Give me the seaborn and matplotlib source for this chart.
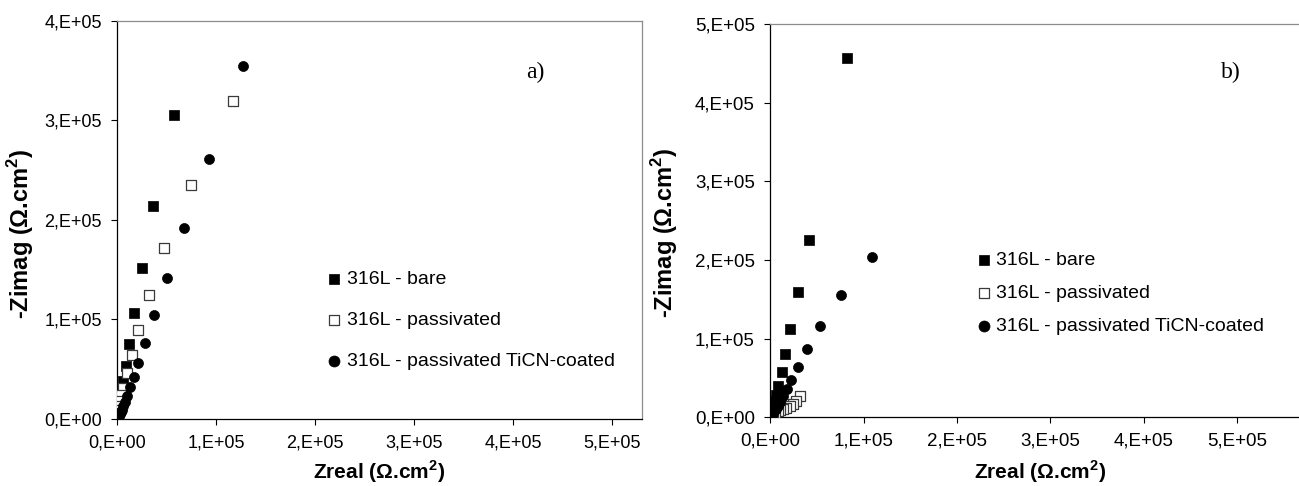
import matplotlib
matplotlib.use("Agg")
import matplotlib.pyplot as plt
import seaborn as sns
import pandas as pd

# ---------------- data ----------------
series_names = ["316L - bare", "316L - passivated", "316L - passivated TiCN-coated"]

a_bare_x = [57000, 36500, 24900, 17000, 11900, 8300, 5400, 3800, 2800, 2000, 1400, 900, 600, 350, 200, 100]
a_bare_y = [305000, 214000, 152000, 106700, 75000, 53300, 37700, 30000, 23000, 17000, 12000, 8000, 5000, 3000, 1600, 700]
a_pass_x = [117000, 74000, 47300, 31800, 21300, 14800, 10100, 5400, 4000, 3000, 2100, 1500, 1000, 600, 350, 200, 100]
a_pass_y = [319700, 235300, 171300, 124300, 89300, 64000, 46000, 31000, 24000, 18000, 13000, 9000, 6000, 3800, 2200, 1200, 500]
a_coat_x = [127400, 93100, 67900, 49800, 37500, 27800, 21300, 17000, 13000, 10100, 8000, 6200, 4700, 3500, 2500, 1700, 1100, 700, 400, 200]
a_coat_y = [355000, 260700, 192300, 142000, 104000, 76700, 56700, 41700, 31700, 23300, 17500, 13000, 9500, 6800, 4700, 3100, 2000, 1200, 600, 250]

b_bare_x = [82700, 41200, 29600, 21800, 16500, 12300, 9000, 6200, 4500, 3300, 2400, 1700, 1200, 800, 500, 300, 150]
b_bare_y = [456200, 225400, 159500, 112700, 80800, 57400, 40400, 28900, 21000, 15500, 11000, 7800, 5400, 3600, 2300, 1300, 600]
b_pass_x = [32000, 28000, 24500, 21000, 17500, 14000, 11000, 8000, 5500, 3500, 2000, 1000, 500, 200]
b_pass_y = [27000, 21000, 17000, 14000, 12000, 10500, 9000, 7500, 6000, 4500, 3000, 1800, 900, 300]
b_coat_x = [109500, 75700, 53900, 39900, 29600, 22600, 17700, 13600, 10500, 8000, 6000, 4500, 3300, 2300, 1600, 1000, 600, 300]
b_coat_y = [204100, 155200, 116100, 86300, 63800, 47600, 36100, 26800, 20000, 14800, 10800, 7800, 5500, 3800, 2500, 1500, 800, 350]

x_tick_vals = [0, 100000, 200000, 300000, 400000, 500000]
x_tick_labels = ["0,E+00", "1,E+05", "2,E+05", "3,E+05", "4,E+05", "5,E+05"]
ya_tick_vals = [0, 100000, 200000, 300000, 400000]
ya_tick_labels = ["0,E+00", "1,E+05", "2,E+05", "3,E+05", "4,E+05"]
yb_tick_vals = [0, 100000, 200000, 300000, 400000, 500000]
yb_tick_labels = ["0,E+00", "1,E+05", "2,E+05", "3,E+05", "4,E+05", "5,E+05"]

xlabel = "Zreal ($\\mathbf{\\Omega}$.cm$^{\\mathbf{2}}$)"
ylabel = "-Zimag ($\\mathbf{\\Omega}$.cm$^{\\mathbf{2}}$)"

# ---------------- style ----------------
sns.set_theme(style="white")
plt.rcParams["font.family"] = ["Liberation Sans", "DejaVu Sans"]
plt.rcParams["mathtext.fontset"] = "custom"
plt.rcParams["mathtext.rm"] = "Liberation Sans"
plt.rcParams["mathtext.bf"] = "Liberation Sans:bold"

fig = plt.figure(figsize=(12.99, 4.86), dpi=100)
ax_a = fig.add_axes([0.0903, 0.1379, 0.4037, 0.8195])
ax_b = fig.add_axes([0.5928, 0.1414, 0.4072, 0.8092])

styles = [
    dict(marker="s", color="black", edgecolor="black", s=42, linewidth=0.5),
    dict(marker="s", color="white", edgecolor="#3a3a3a", s=42, linewidth=0.9),
    dict(marker="o", color="black", edgecolor="black", s=52, linewidth=0.5),
]


def draw(ax, xs, ys):
    for name, x, y, st in zip(series_names, xs, ys, styles):
        df = pd.DataFrame({"x": x, "y": y})
        sns.scatterplot(data=df, x="x", y="y", ax=ax, label=name, zorder=3, **st)


draw(ax_a, [a_bare_x, a_pass_x, a_coat_x], [a_bare_y, a_pass_y, a_coat_y])
draw(ax_b, [b_bare_x, b_pass_x, b_coat_x], [b_bare_y, b_pass_y, b_coat_y])

ax_a.set_xlim(0, 530000)
ax_a.set_ylim(0, 400000)
ax_b.set_xlim(0, 566000)
ax_b.set_ylim(0, 500000)

for ax, yv, yl, fs in [(ax_a, ya_tick_vals, ya_tick_labels, 13), (ax_b, yb_tick_vals, yb_tick_labels, 13.5)]:
    ax.set_xticks(x_tick_vals)
    ax.set_xticklabels(x_tick_labels)
    ax.set_yticks(yv)
    ax.set_yticklabels(yl)
    ax.tick_params(axis="both", which="major", direction="out", length=4, width=0.8,
                   color="black", labelsize=fs, labelcolor="black", pad=7,
                   bottom=True, left=True)
    for side in ["left", "bottom"]:
        ax.spines[side].set_color("black")
        ax.spines[side].set_linewidth(0.9)
    for side in ["top", "right"]:
        ax.spines[side].set_color("#8c8c8c")
        ax.spines[side].set_linewidth(0.9)
    ax.set_xlabel(xlabel, fontsize=15, fontweight="bold", color="black")
    ax.set_ylabel(ylabel, fontsize=17, fontweight="bold", color="black")
    ax.grid(False)

ax_b.spines["right"].set_visible(False)

ax_a.xaxis.set_label_coords(0.5, -0.1)
ax_a.yaxis.set_label_coords(-0.155, 0.465)
ax_b.xaxis.set_label_coords(0.51, -0.105)
ax_b.yaxis.set_label_coords(-0.17, 0.47)

leg_a = ax_a.legend(loc="upper left", bbox_to_anchor=(0.403, 0.372), frameon=False,
                    fontsize=14, handlelength=0.6, handletextpad=0.35, borderpad=0,
                    borderaxespad=0, labelspacing=1.2, markerscale=1.1)
leg_b = ax_b.legend(loc="upper left", bbox_to_anchor=(0.393, 0.422), frameon=False,
                    fontsize=14, handlelength=0.6, handletextpad=0.35, borderpad=0,
                    borderaxespad=0, labelspacing=0.8, markerscale=1.1)
for leg in (leg_a, leg_b):
    for t in leg.get_texts():
        t.set_color("black")

ax_a.text(0.797, 0.871, "a)", transform=ax_a.transAxes, ha="center", va="center",
          fontsize=17, family="Liberation Serif", color="black")
ax_b.text(0.871, 0.878, "b)", transform=ax_b.transAxes, ha="center", va="center",
          fontsize=17, family="Liberation Serif", color="black")

fig.savefig("out.png", dpi=100, facecolor="white")
